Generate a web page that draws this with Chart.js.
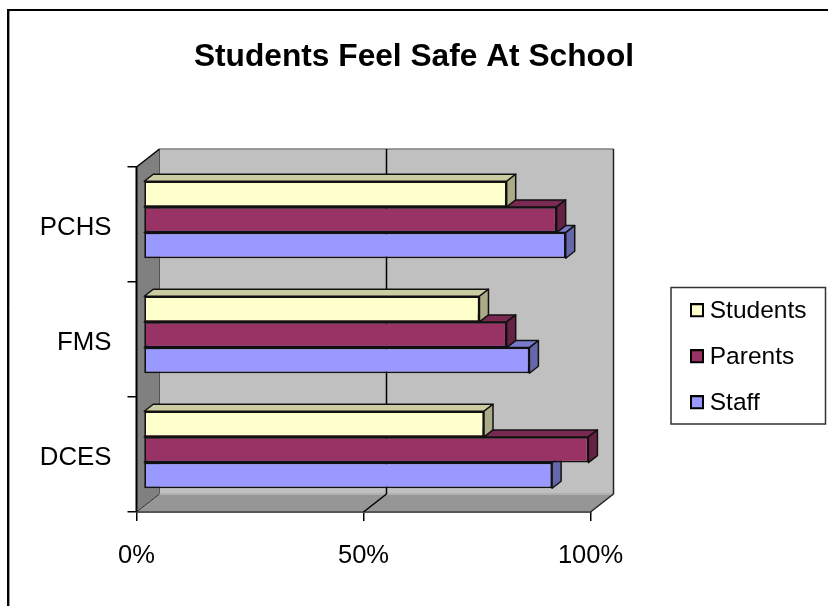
<!DOCTYPE html>
<html>
<head>
<meta charset="utf-8">
<title>Students Feel Safe At School</title>
<script src="https://cdn.jsdelivr.net/npm/chart.js@4/dist/chart.umd.min.js"></script>
<style>
  html, body { margin: 0; padding: 0; background: #fff; }
  canvas { display: block; }
</style>
</head>
<body>
<canvas id="safeChart" width="828" height="606"></canvas>
<script>
const schools = ['PCHS', 'FMS', 'DCES'];
const studentsPct = [80, 74, 75];
const parentsPct = [91, 80, 98];
const staffPct = [93, 85, 90];

const FONT = '"Liberation Sans", Arial, sans-serif';

// floor/wall depth and bar depth, in px
const WALL_DX = 23, WALL_DY = 18;
const BAR_DX = 9, BAR_DY = 7;
// bars stand in the middle of the floor, not on the front edge
const BAR_SHIFT_X = 7, BAR_SHIFT_Y = -4.75;

const shades = [
  { front: '#FFFFCC', top: '#CCCCA3', side: '#ABAB88' },
  { front: '#993366', top: '#7A2952', side: '#662244' },
  { front: '#9999FF', top: '#7A7ACC', side: '#6666AA' },
];

// little square for the legend, sitting 1px above the middle of its canvas
function swatch(color) {
  const c = document.createElement('canvas');
  c.width = 14;
  c.height = 16;
  const g = c.getContext('2d');
  g.fillStyle = color;
  g.strokeStyle = '#000';
  g.lineWidth = 2;
  g.fillRect(1, 1, 12, 12);
  g.strokeRect(1, 1, 12, 12);
  return c;
}

function poly(ctx, pts, fill, stroke, width) {
  ctx.beginPath();
  pts.forEach((p, i) => i ? ctx.lineTo(p[0], p[1]) : ctx.moveTo(p[0], p[1]));
  ctx.closePath();
  if (fill) {
    ctx.fillStyle = fill;
    ctx.fill();
  }
  if (stroke) {
    ctx.strokeStyle = stroke;
    ctx.lineWidth = width;
    ctx.stroke();
  }
}

function line(ctx, x1, y1, x2, y2, color, width) {
  ctx.beginPath();
  ctx.moveTo(x1, y1);
  ctx.lineTo(x2, y2);
  ctx.strokeStyle = color;
  ctx.lineWidth = width;
  ctx.stroke();
}

// outer frame, walls, floor and the legend border
const boxPlugin = {
  id: 'box',
  beforeDraw(chart) {
    const ctx = chart.ctx;
    ctx.save();
    ctx.fillStyle = '#fff';
    ctx.fillRect(0, 0, chart.width, chart.height);
    line(ctx, 8, 10, 8, chart.height, '#000', 2);
    line(ctx, 7, 10, chart.width, 10, '#000', 2);
    line(ctx, 9.5, 11, 9.5, chart.height, '#999', 1);
    poly(ctx, [[671, 287.5], [825.5, 287.5], [825.5, 424], [671, 424]], '#fff', '#333', 1.5);
    ctx.restore();
  },
  beforeDatasetsDraw(chart) {
    const ctx = chart.ctx;
    const { left, right, top, bottom } = chart.chartArea;
    const backL = left + WALL_DX, backR = right + WALL_DX;
    const backT = top - WALL_DY, backB = bottom - WALL_DY;
    ctx.save();
    poly(ctx, [[backL, backT], [backR, backT], [backR, backB], [backL, backB]], '#C0C0C0');
    poly(ctx, [[left, top], [backL, backT], [backL, backB], [left, bottom]], '#808080');
    poly(ctx, [[left, bottom], [backL, backB], [backR, backB], [right, bottom]], '#969696');
    line(ctx, backL, backT, backR, backT, '#808080', 1.5);
    line(ctx, backL, backT, backL, backB, '#555', 1);
    line(ctx, backL, backB, backR, backB, '#B0B0B0', 2);
    line(ctx, left, bottom, right, bottom, '#555', 2);
    line(ctx, backR, backT, backR, backB, '#222', 1.5);
    line(ctx, left, bottom, left, top, '#000', 2);
    line(ctx, left, top, backL, backT, '#000', 1.5);
    line(ctx, right, bottom, backR, backB, '#222', 1.5);
    line(ctx, left, bottom, backL, backB, '#333', 1);
    chart.scales.x.ticks.forEach(t => {
      if (t.value === 0 || t.value === 100) return;
      const px = chart.scales.x.getPixelForValue(t.value);
      line(ctx, px + WALL_DX, backT, px + WALL_DX, backB, '#000', 1.5);
      line(ctx, px + WALL_DX, backB, px, bottom, '#000', 1.5);
    });
    ctx.restore();
  },
  // each series gets its top and end faces, then its front from the bar element
  beforeDatasetDraw(chart, args) {
    const ctx = chart.ctx;
    const shade = shades[args.index];
    ctx.save();
    ctx.translate(BAR_SHIFT_X, BAR_SHIFT_Y);
    ctx.lineJoin = 'round';
    args.meta.data.forEach(bar => {
      const t = bar.y - bar.height / 2, b = bar.y + bar.height / 2;
      poly(ctx, [[bar.base, t], [bar.base + BAR_DX, t - BAR_DY], [bar.x + BAR_DX, t - BAR_DY], [bar.x, t]], shade.top, '#111', 1.5);
      poly(ctx, [[bar.x, t], [bar.x + BAR_DX, t - BAR_DY], [bar.x + BAR_DX, b - BAR_DY], [bar.x, b]], shade.side, '#111', 1.5);
    });
  },
  afterDatasetDraw(chart) {
    chart.ctx.restore();
  },
  // legend sits outside the plot in its own box, title spans the whole canvas
  afterLayout(chart) {
    const lg = chart.legend;
    lg.left = 675;
    lg.top = 277.5;
    lg.right = 825;
    lg.bottom = chart.height;
    chart.titleBlock.left = 0;
    chart.titleBlock.right = chart.width;
  },
};

function series(label, values, i) {
  return {
    label: label,
    data: values,
    backgroundColor: shades[i].front,
    borderColor: '#111',
    borderWidth: 1.75,
    borderSkipped: false,
    categoryPercentage: 0.67,
    barPercentage: 1,
    clip: false,
  };
}

new Chart(document.getElementById('safeChart'), {
  type: 'bar',
  data: {
    labels: schools,
    datasets: [
      series('Students', studentsPct, 0),
      series('Parents', parentsPct, 1),
      series('Staff', staffPct, 2),
    ],
  },
  plugins: [boxPlugin],
  options: {
    indexAxis: 'y',
    responsive: false,
    animation: false,
    layout: { padding: { left: 0, right: 237.5, top: 0, bottom: 0 } },
    scales: {
      x: {
        type: 'linear',
        min: 0,
        max: 100,
        afterFit(scale) { scale.height = 94; },
        grid: { drawOnChartArea: false, color: '#000', lineWidth: 1.5, tickLength: 9 },
        border: { display: false },
        ticks: {
          stepSize: 50,
          maxRotation: 0,
          padding: 20,
          color: '#000',
          font: { family: FONT, size: 25.5 },
          callback: v => v + '%',
        },
      },
      y: {
        afterFit(scale) { scale.width = 136.5; },
        grid: { drawOnChartArea: false, color: '#000', lineWidth: 1.5, tickLength: 9 },
        border: { display: false },
        ticks: {
          padding: 16,
          labelOffset: 3,
          color: '#000',
          font: { family: FONT, size: 25.8 },
        },
      },
    },
    plugins: {
      tooltip: { enabled: false },
      title: {
        display: true,
        text: 'Students Feel Safe At School',
        color: '#000',
        font: { family: FONT, size: 31.7, weight: 'bold', lineHeight: 1.2 },
        padding: { top: 38, bottom: 90.96 },
      },
      legend: {
        position: 'chartArea',
        align: 'start',
        labels: {
          usePointStyle: true,
          pointStyleWidth: 1,
          boxHeight: 14,
          padding: 21.5,
          color: '#000',
          font: { family: FONT, size: 24.5 },
          generateLabels(chart) {
            return Chart.defaults.plugins.legend.labels.generateLabels(chart).map(item => {
              item.pointStyle = swatch(shades[item.datasetIndex].front);
              return item;
            });
          },
        },
      },
    },
  },
});
</script>
</body>
</html>
